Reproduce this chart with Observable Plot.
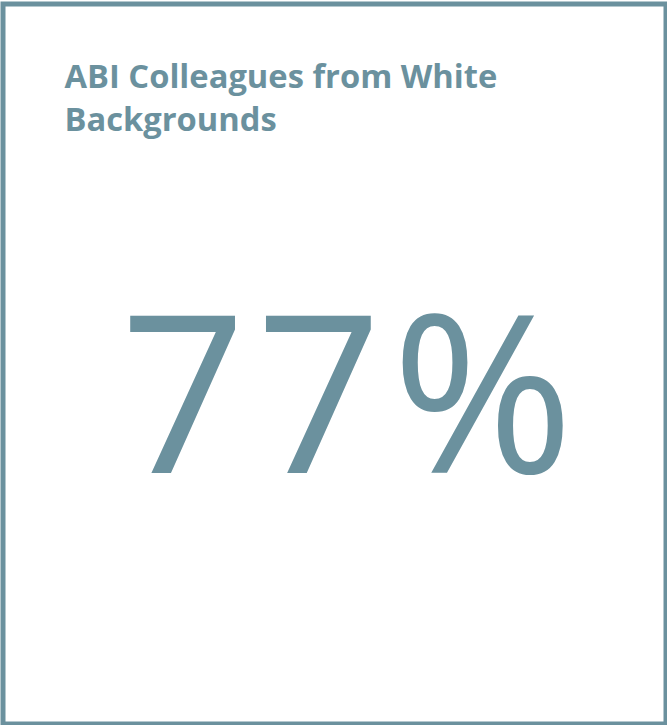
<!DOCTYPE html>
<html>
<head>
<meta charset="utf-8">
<script src="https://cdn.jsdelivr.net/npm/d3@7"></script>
<script src="https://cdn.jsdelivr.net/npm/@observablehq/plot@0.6"></script>
<style>
  html, body { margin: 0; padding: 0; background: #fff; overflow: hidden; }
  #chart svg { display: block; }
  #chart .kpi text { letter-spacing: 10px; }
</style>
</head>
<body>
<div id="chart"></div>
<script>
// Data
const titleLines = ["ABI Colleagues from White", "Backgrounds"];
const values = [77];
const units = ["%"];

const color = "#6b919e";
const W = 667, H = 725;

const kpi = values.map((v, i) => ({label: `${v}${units[i]}`}));
const title = [{label: titleLines.join("\n")}];

const chart = Plot.plot({
  width: W,
  height: H,
  margin: 0,
  style: {background: "#fff", overflow: "hidden"},
  marks: [
    Plot.frame({stroke: color, strokeWidth: 5, insetLeft: 2.5, insetTop: 3.5, insetRight: 1.5, insetBottom: 1.5}),
    Plot.text(title, {
      text: "label",
      frameAnchor: "top-left",
      textAnchor: "start",
      lineAnchor: "top",
      dx: 64,
      dy: 57,
      fontFamily: "Open Sans",
      fontWeight: 700,
      fontSize: 32.7,
      lineHeight: 1.31,
      fill: color
    }),
    Plot.text(kpi, {
      text: "label",
      className: "kpi",
      frameAnchor: "middle",
      textAnchor: "middle",
      lineAnchor: "middle",
      dx: 18,
      dy: 40,
      fontFamily: "Open Sans",
      fontWeight: 400,
      fontSize: 220,
      fill: color
    })
  ]
});
document.getElementById("chart").appendChild(chart);
</script>
</body>
</html>
